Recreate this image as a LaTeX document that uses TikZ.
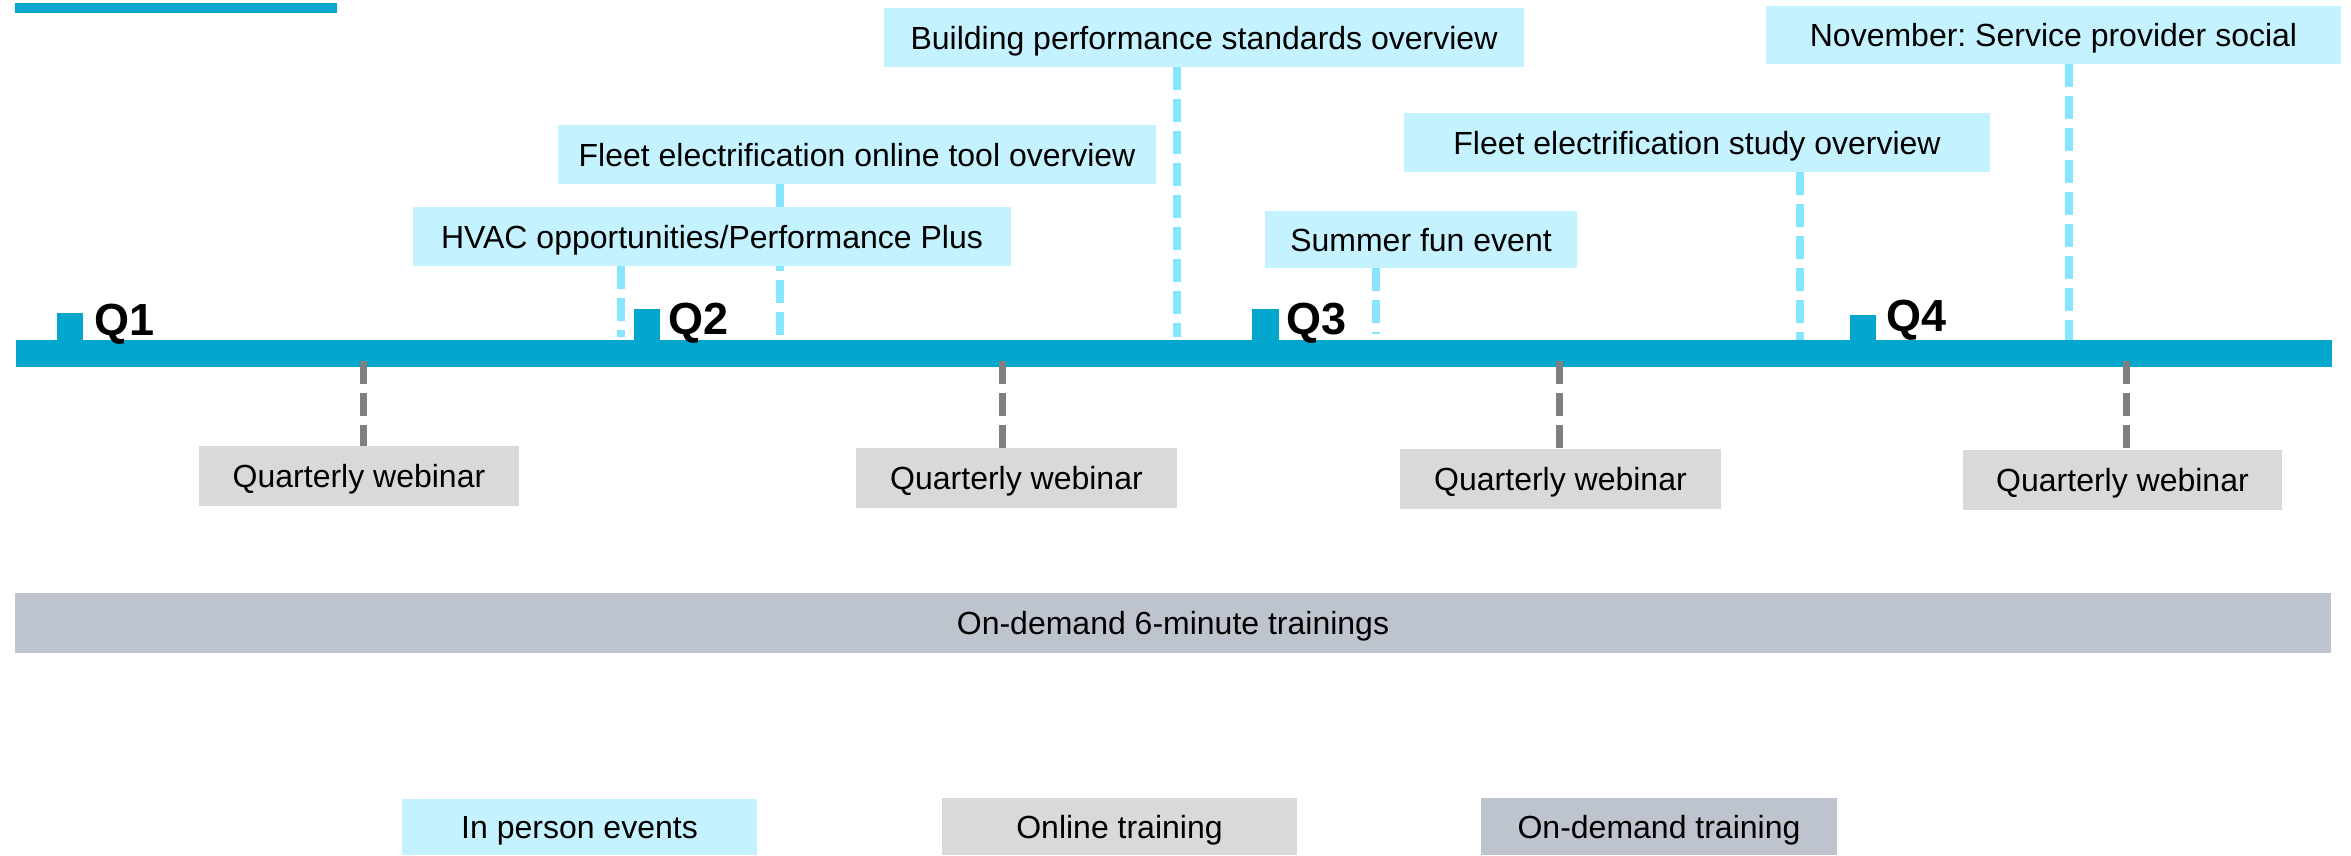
\documentclass[tikz,border=0pt]{standalone}
\usepackage{fontspec}
\setmainfont{Liberation Sans}
\frenchspacing
\definecolor{barblue}{HTML}{03A7CE}
\definecolor{evfill}{HTML}{C4F2FE}
\definecolor{evdash}{HTML}{86E5FF}
\definecolor{olfill}{HTML}{D9D9D9}
\definecolor{oldash}{HTML}{7F7F7F}
\definecolor{odfill}{HTML}{BDC4CE}
\newcommand\rbox[7]{\node[#1, minimum width={(#5-#3)*1pt}, minimum height={(#6-#4)*1pt}] (#2) at ({(#3+#5)/2},{(#4+#6)/2}) {#7};}
\begin{document}
\begin{tikzpicture}[x=1pt,y=-1pt,
  lbl/.style={inner sep=0pt, outer sep=0pt, font=\fontsize{32}{38}\selectfont\frenchspacing, text=black, text height=23pt, text depth=0pt},
  evbox/.style={lbl, fill=evfill},
  olbox/.style={lbl, fill=olfill},
  odbox/.style={lbl, fill=odfill},
  barbox/.style={inner sep=0pt, outer sep=0pt, fill=barblue},
  evline/.style={draw=evdash, line width=8pt, dash pattern=on 23pt off 9pt},
  olline/.style={draw=oldash, line width=7pt, dash pattern=on 23pt off 9pt},
  qlbl/.style={inner sep=0pt, anchor=base west, font=\fontsize{45}{54}\selectfont\bfseries, text=black}
]
\useasboundingbox (0,0) rectangle (2351,855);

% positions of the connectors
\coordinate (xbps) at (1177,0);
\coordinate (xfeot) at (780,0);
\coordinate (xhvac) at (621,0);
\coordinate (xsfe) at (1376,0);
\coordinate (xfesd) at (1800,0);
\coordinate (xnov) at (2069,0);
\coordinate (xqw1) at (363,0);
\coordinate (xqw2) at (1002,0);
\coordinate (xqw3) at (1559,0);
\coordinate (xqw4) at (2126,0);

% top-left accent bar
\rbox{barbox}{accent}{15}{3}{337}{13}{}

% main timeline bar
\rbox{barbox}{bar}{16}{340}{2332}{367}{}

% in person events
\rbox{evbox}{bps}{884}{8}{1524}{67}{Building performance standards overview}
\rbox{evbox}{feot}{558}{125}{1156}{184}{Fleet electrification online tool overview}
\draw[evline] (bps.south -| xbps) -- ([yshift=3pt]bar.north -| xbps);
\draw[evline] (feot.south -| xfeot) -- ([yshift=3pt]bar.north -| xfeot);
\rbox{evbox}{hvac}{413}{207}{1011}{266}{HVAC opportunities/Performance Plus}
\draw[evline] (hvac.south -| xhvac) -- ([yshift=3pt]bar.north -| xhvac);
\rbox{evbox}{sfe}{1265}{211}{1577}{268}{Summer fun event}
\draw[evline] (sfe.south -| xsfe) -- ([yshift=6pt]bar.north -| xsfe);
\rbox{evbox}{fesd}{1404}{113}{1990}{172}{Fleet electrification study overview}
\draw[evline] (fesd.south -| xfesd) -- (bar.north -| xfesd);
\rbox{evbox}{nov}{1766}{6}{2341}{64}{November: Service provider social}
\draw[evline] (nov.south -| xnov) -- (bar.north -| xnov);

% quarter markers
\rbox{barbox}{m1}{57}{313}{83}{345}{}
\rbox{barbox}{m2}{634}{309}{660}{345}{}
\rbox{barbox}{m3}{1252}{309}{1279}{345}{}
\rbox{barbox}{m4}{1850}{315}{1876}{345}{}
\node[qlbl] (q1) at (94,335) {Q1};
\node[qlbl] (q2) at (668,334) {Q2};
\node[qlbl] (q3) at (1286,334) {Q3};
\node[qlbl] (q4) at (1886,331) {Q4};

% online training
\rbox{olbox}{qw1}{199}{446}{519}{506}{Quarterly webinar}
\rbox{olbox}{qw2}{856}{448}{1177}{508}{Quarterly webinar}
\rbox{olbox}{qw3}{1400}{449}{1721}{509}{Quarterly webinar}
\rbox{olbox}{qw4}{1963}{450}{2282}{510}{Quarterly webinar}
\draw[olline] ([yshift=6pt]bar.south -| xqw1) -- (qw1.north -| xqw1);
\draw[olline] ([yshift=6pt]bar.south -| xqw2) -- (qw2.north -| xqw2);
\draw[olline] ([yshift=6pt]bar.south -| xqw3) -- (qw3.north -| xqw3);
\draw[olline] ([yshift=6pt]bar.south -| xqw4) -- (qw4.north -| xqw4);

% on-demand
\rbox{odbox}{od}{15}{593}{2331}{653}{On-demand 6-minute trainings}

% legend
\rbox{evbox}{lg1}{402}{799}{757}{855}{In person events}
\rbox{olbox}{lg2}{942}{798}{1297}{855}{Online training}
\rbox{odbox}{lg3}{1481}{798}{1837}{855}{On-demand training}
\end{tikzpicture}
\end{document}
